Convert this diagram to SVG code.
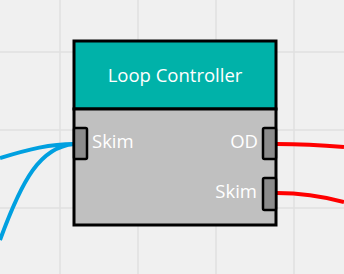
<svg xmlns="http://www.w3.org/2000/svg" width="344" height="274" viewBox="0 0 344 274">
<style>
.grid{stroke:#e0e0e0;stroke-width:1.5;fill:none}
.wire-in{stroke:#00a0e0;stroke-width:4;fill:none}
.wire-out{stroke:#ff0000;stroke-width:4;fill:none}
.frame{stroke:#000;stroke-width:3}
.port{fill:#8c8c8c;stroke:#000;stroke-width:2.5}
.lbl{font-family:"Open Sans","Noto Sans","DejaVu Sans",sans-serif;fill:#fff;font-size:18.5px}
</style>
<rect width="344" height="274" fill="#f0f0f0"/>
<g id="grid">
<path class="grid" d="M60,0V274M138,0V274M216,0V274M294,0V274M0,52H344M0,130H344M0,208H344"/>
</g>
<g id="connectors">
<path class="wire-in" d="M0,158 C30,149 50,144 74,144"/>
<path class="wire-in" d="M0,240 C22,180 40,147 74,144"/>
<path class="wire-out" d="M277,144 C300,144 320,145 344,147"/>
<path class="wire-out" d="M277,193 C305,193 325,197 344,202"/>
</g>
<g id="loop-controller">
<rect class="frame" x="74" y="41" width="202" height="68" fill="#00b2a9"/>
<rect class="frame" x="74" y="109" width="202" height="116" fill="#c0c0c0"/>
<text class="lbl" x="175" y="82" text-anchor="middle">Loop Controller</text>
<rect class="port" x="74" y="128" width="13" height="31" rx="1.5"/>
<rect class="port" x="263" y="128" width="13" height="31" rx="1.5"/>
<rect class="port" x="263" y="178" width="13" height="32" rx="1.5"/>
<text class="lbl" x="92" y="148">Skim</text>
<text class="lbl" x="258" y="148" text-anchor="end">OD</text>
<text class="lbl" x="257" y="198" text-anchor="end">Skim</text>
</g>
</svg>
